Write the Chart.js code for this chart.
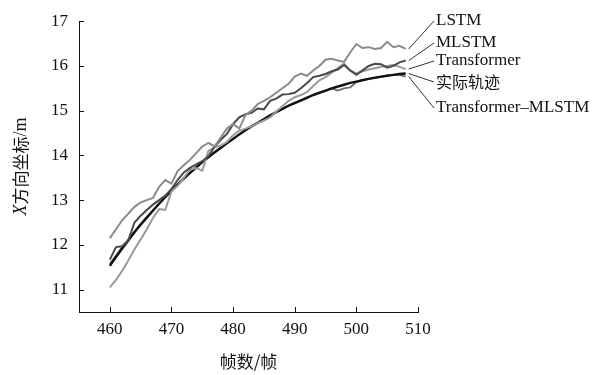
<!DOCTYPE html>
<html>
<head>
<meta charset="utf-8">
<script src="https://cdn.jsdelivr.net/npm/chart.js@4.4.1/dist/chart.umd.min.js"></script>
<style>
  html, body { margin: 0; padding: 0; background: #fff; }
  #wrap { width: 595px; height: 375px; position: relative; }
</style>
</head>
<body>
<div id="wrap"><canvas id="chart"></canvas></div>
<script>
const frames = [460, 461, 462, 463, 464, 465, 466, 467, 468, 469,
  470, 471, 472, 473, 474, 475, 476, 477, 478, 479,
  480, 481, 482, 483, 484, 485, 486, 487, 488, 489,
  490, 491, 492, 493, 494, 495, 496, 497, 498, 499,
  500, 501, 502, 503, 504, 505, 506, 507, 508];
const xTicks = [460, 470, 480, 490, 500, 510];
const yTicks = [11, 12, 13, 14, 15, 16, 17];

const lstm = [12.15, 12.35, 12.55, 12.7, 12.85, 12.95, 13.0, 13.05, 13.3, 13.45,
  13.37, 13.65, 13.78, 13.9, 14.05, 14.2, 14.28, 14.2, 14.4, 14.6,
  14.7, 14.6, 14.9, 15.0, 15.15, 15.22, 15.3, 15.4, 15.5, 15.6,
  15.76, 15.83, 15.78, 15.9, 16.0, 16.14, 16.16, 16.12, 16.09, 16.3,
  16.49, 16.4, 16.42, 16.38, 16.4, 16.54, 16.42, 16.45, 16.38];
const mlstm = [11.67, 11.95, 11.97, 12.1, 12.5, 12.65, 12.78, 12.9, 13.0, 13.1,
  13.25, 13.45, 13.62, 13.72, 13.8, 13.87, 13.98, 14.2, 14.35, 14.48,
  14.7, 14.85, 14.92, 14.95, 15.05, 15.03, 15.22, 15.27, 15.36, 15.37,
  15.4, 15.5, 15.62, 15.75, 15.78, 15.82, 15.88, 15.92, 16.02, 15.9,
  15.8, 15.9, 16.0, 16.05, 16.04, 15.96, 16.0, 16.08, 16.12];
const transformer = [11.05, 11.22, 11.42, 11.65, 11.9, 12.12, 12.35, 12.6, 12.8, 12.78,
  13.2, 13.32, 13.5, 13.68, 13.72, 13.66, 14.1, 14.18, 14.22, 14.3,
  14.45, 14.55, 14.6, 14.65, 14.72, 14.78, 14.85, 14.98, 15.1, 15.22,
  15.3, 15.35, 15.42, 15.55, 15.68, 15.75, 15.85, 15.95, 16.05, 15.9,
  15.83, 15.88, 15.92, 15.95, 15.98, 16.0, 16.02, 15.98, 15.93];
const actual = [11.53, 11.73, 11.92, 12.1, 12.28, 12.45, 12.61, 12.77, 12.92, 13.07,
  13.21, 13.35, 13.48, 13.61, 13.73, 13.85, 13.96, 14.07, 14.17, 14.27,
  14.37, 14.47, 14.56, 14.65, 14.73, 14.81, 14.89, 14.97, 15.04, 15.11,
  15.17, 15.23, 15.29, 15.35, 15.4, 15.45, 15.5, 15.54, 15.58, 15.62,
  15.65, 15.68, 15.71, 15.74, 15.76, 15.78, 15.8, 15.82, 15.83];
const transMlstm = [11.58, 11.76, 11.95, 12.12, 12.3, 12.47, 12.62, 12.76, 12.93, 13.06,
  13.2, 13.36, 13.5, 13.6, 13.72, 13.86, 13.97, 14.06, 14.16, 14.28,
  14.36, 14.47, 14.57, 14.64, 14.72, 14.82, 14.9, 14.96, 15.03, 15.12,
  15.18, 15.22, 15.28, 15.36, 15.41, 15.44, 15.5, 15.45, 15.5, 15.52,
  15.64, 15.69, 15.71, 15.73, 15.75, 15.79, 15.8, 15.8, 15.76];

const seriesNames = ["LSTM", "MLSTM", "Transformer", "实际轨迹", "Transformer–MLSTM"];
const seriesValues = [lstm, mlstm, transformer, actual, transMlstm];
const seriesColors = ["#8a8a8a", "#4a4a4a", "#9a9a9a", "#111111", "#6a6a6a"];
const seriesWidths = [2, 2, 2, 2.4, 1.8];
// where each label sits (y of text centre) in the right margin
const labelY = [21, 43, 61, 82, 108];

const serif = "'Liberation Serif', 'DejaVu Serif', serif";
const cjk = "'Noto Sans CJK SC', sans-serif";

const decor = {
  id: "decor",
  afterDraw(chart) {
    const ctx = chart.ctx;
    const xs = chart.scales.x, ys = chart.scales.y;
    const area = chart.chartArea;
    ctx.save();
    // inward tick marks
    ctx.strokeStyle = "#111";
    ctx.lineWidth = 1;
    ctx.beginPath();
    yTicks.forEach(v => {
      const p = Math.round(ys.getPixelForValue(v)) + 0.5;
      ctx.moveTo(area.left, p);
      ctx.lineTo(area.left + 5, p);
    });
    xTicks.forEach(v => {
      const p = Math.round(xs.getPixelForValue(v)) + 0.5;
      ctx.moveTo(p, area.bottom);
      ctx.lineTo(p, area.bottom - 5);
    });
    ctx.stroke();

    // series labels with leader lines
    ctx.fillStyle = "#111";
    ctx.textBaseline = "middle";
    ctx.textAlign = "left";
    seriesNames.forEach((name, i) => {
      const vals = seriesValues[i];
      const last = vals.length - 1;
      const x0 = xs.getPixelForValue(frames[last]) + 3;
      const y0 = ys.getPixelForValue(vals[last]);
      ctx.strokeStyle = "#333";
      ctx.beginPath();
      ctx.moveTo(x0, y0);
      ctx.lineTo(434, labelY[i]);
      ctx.stroke();
      ctx.font = (/[\u4e00-\u9fff]/.test(name) ? "16px " + cjk : "17px " + serif);
      ctx.fillText(name, 436, labelY[i]);
    });

    // axis titles
    ctx.textAlign = "center";
    ctx.font = "17px " + cjk;
    ctx.fillText("帧数/帧", (area.left + area.right) / 2, 362);

    ctx.translate(21, (area.top + area.bottom) / 2);
    ctx.rotate(-Math.PI / 2);
    ctx.textAlign = "left";
    const fx = "italic 18px " + serif;
    const fr = "17px " + cjk;
    const fm = "18px " + serif;
    ctx.font = fx; const w1 = ctx.measureText("X").width;
    ctx.font = fr; const w2 = ctx.measureText("方向坐标").width;
    ctx.font = fm; const w3 = ctx.measureText("/m").width;
    let px = -(w1 + w2 + w3) / 2;
    ctx.font = fx; ctx.fillText("X", px, 0); px += w1;
    ctx.font = fr; ctx.fillText("方向坐标", px, 0); px += w2;
    ctx.font = fm; ctx.fillText("/m", px, 0);
    ctx.restore();
  }
};

new Chart(document.getElementById("chart"), {
  type: "line",
  data: {
    datasets: seriesValues.map((vals, i) => ({
      label: seriesNames[i],
      data: frames.map((f, j) => ({ x: f, y: vals[j] })),
      borderColor: seriesColors[i],
      borderWidth: seriesWidths[i],
      pointRadius: 0,
      tension: 0,
      fill: false,
    })),
  },
  options: {
    responsive: true,
    maintainAspectRatio: false,
    animation: false,
    layout: { padding: { left: 0, top: 19, right: 177, bottom: 0 } },
    plugins: { legend: { display: false }, tooltip: { enabled: false } },
    scales: {
      x: {
        type: "linear",
        min: 455,
        max: 510,
        grid: { display: false, drawTicks: false },
        border: { display: true, color: "#111", width: 1 },
        afterBuildTicks: s => { s.ticks = xTicks.map(v => ({ value: v })); },
        afterFit: s => { s.height = 63; },
        ticks: { padding: 7, color: "#111", font: { family: serif, size: 17 } },
      },
      y: {
        min: 10.5,
        max: 17,
        grid: { display: false, drawTicks: false },
        border: { display: true, color: "#111", width: 1 },
        afterBuildTicks: s => { s.ticks = yTicks.map(v => ({ value: v })); },
        afterFit: s => { s.width = 79; },
        ticks: { padding: 11, color: "#111", font: { family: serif, size: 17 } },
      },
    },
  },
  plugins: [decor],
});
</script>
</body>
</html>
